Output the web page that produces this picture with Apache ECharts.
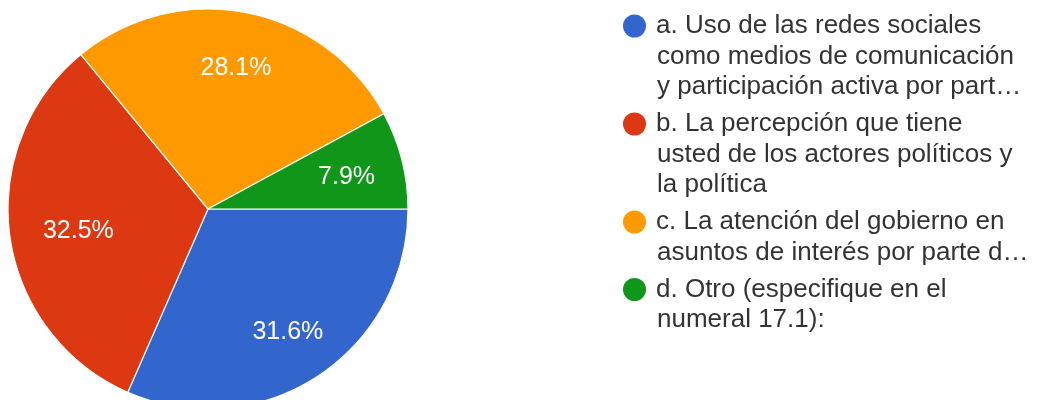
<!DOCTYPE html>
<html>
<head>
<meta charset="utf-8">
<script src="https://cdn.jsdelivr.net/npm/echarts@6/dist/echarts.min.js"></script>
<style>
html,body{margin:0;padding:0;background:#fff;}
#chart{width:1046px;height:400px;}
</style>
</head>
<body>
<div id="chart"></div>
<script>
const categories = ['a', 'b', 'c', 'd'];
const values = [31.6, 32.5, 28.1, 7.9];
const colors = ['#3366CC', '#DC3912', '#FF9900', '#109618'];
const legendLines = [
  ['a. Uso de las redes sociales', 'como medios de comunicación', 'y participación activa por part…'],
  ['b. La percepción que tiene', 'usted de los actores políticos y', 'la política'],
  ['c. La atención del gobierno en', 'asuntos de interés por parte d…'],
  ['d. Otro (especifique en el', 'numeral 17.1):']
];

const FONT = "'Liberation Sans', Arial, Helvetica, sans-serif";
const data = categories.map((c, i) => ({ name: c, value: values[i], itemStyle: { color: colors[i] } }));

const rich = {
  s: { width: 24, height: 24, lineHeight: 30.5 },
  t: { fontSize: 26, color: '#333', fontFamily: FONT, lineHeight: 30.5, padding: [0, 0, 0, 10] }
};
colors.forEach((col, i) => {
  rich['d' + i] = { width: 23, height: 23, borderRadius: 11.5, backgroundColor: col, lineHeight: 30.5 };
});

// label offsets (Google keeps the long-left label slightly nearer the centre)
const labelOffsets = [[0, 1], [15, 2], [0, 2], [-3, 4]];

const chart = echarts.init(document.getElementById('chart'), null, { renderer: 'canvas' });
chart.setOption({
  animation: false,
  color: colors,
  legend: {
    orient: 'vertical',
    left: 613,
    top: 8,
    icon: 'none',
    itemWidth: 0,
    itemHeight: 0,
    itemGap: 11,
    selectedMode: false,
    data: categories,
    formatter: function (name) {
      const i = categories.indexOf(name);
      return legendLines[i].map((l, j) => (j === 0 ? '{d' + i + '|}' : '{s|}') + '{t|' + l + '}').join('\n');
    },
    textStyle: { rich: rich, fontFamily: FONT }
  },
  series: [
    {
      type: 'pie',
      center: [208, 209],
      radius: 200,
      startAngle: 0,
      clockwise: true,
      silent: true,
      label: { show: false },
      labelLine: { show: false },
      itemStyle: { borderColor: '#ffffff', borderWidth: 1.2 },
      emphasis: { disabled: true },
      data: data
    },
    {
      type: 'pie',
      center: [208, 209],
      radius: [86, 200],
      startAngle: 0,
      clockwise: true,
      silent: true,
      itemStyle: { color: 'rgba(0,0,0,0)' },
      label: {
        show: true,
        position: 'inside',
        color: '#ffffff',
        fontSize: 25,
        fontFamily: FONT,
        formatter: p => p.value.toFixed(1) + '%'
      },
      labelLine: { show: false },
      emphasis: { disabled: true },
      data: categories.map((c, i) => ({ name: c, value: values[i], label: { offset: labelOffsets[i] } }))
    }
  ]
});
</script>
</body>
</html>
